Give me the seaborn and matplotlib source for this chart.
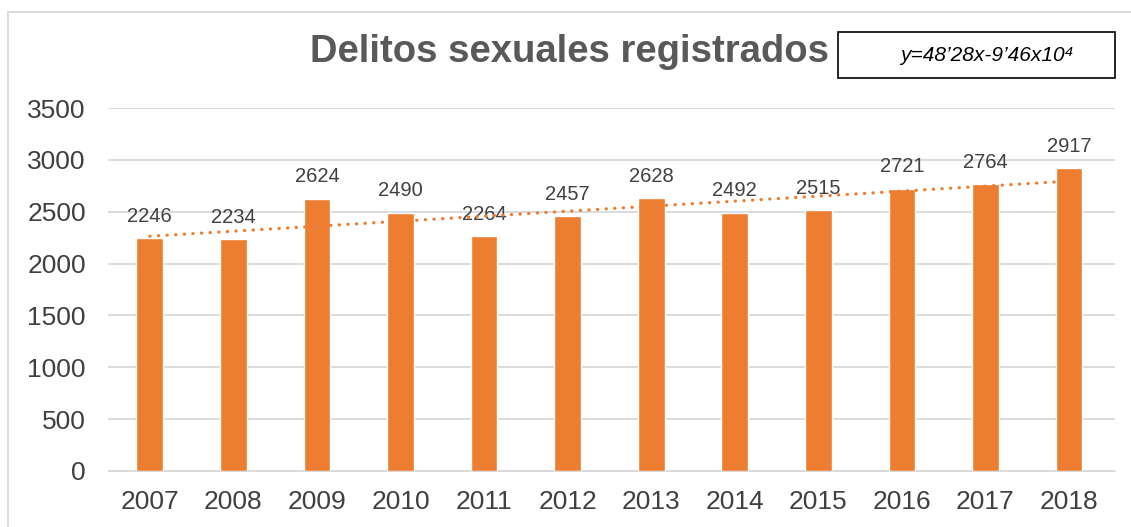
import numpy as np
import pandas as pd
import matplotlib as mpl
mpl.use('Agg')
import matplotlib.pyplot as plt
import seaborn as sns
from matplotlib.patches import Rectangle

years = ['2007', '2008', '2009', '2010', '2011', '2012',
         '2013', '2014', '2015', '2016', '2017', '2018']
delitos = [2246, 2234, 2624, 2490, 2264, 2457, 2628, 2492, 2515, 2721, 2764, 2917]
equation = "y=48’28x-9’46x10⁴"

sns.set_style('white')
plt.rcParams['font.family'] = ['Liberation Sans', 'DejaVu Sans']

df = pd.DataFrame({'year': years, 'n': delitos})

fig = plt.figure(figsize=(11.31, 5.27), dpi=100)
ax = fig.add_axes([108 / 1131, 1 - 471 / 527, (1115 - 108) / 1131, (471 - 108) / 527])

sns.barplot(data=df, x='year', y='n', color='#ED7D31', saturation=1, width=0.32, ax=ax, zorder=2)

# labels sobre las barras
ax.bar_label(ax.containers[0], fontsize=14.5, color='#404040', padding=9)

# linea de tendencia lineal
xs = np.arange(len(delitos))
m, b = np.polyfit(xs, delitos, 1)
ax.plot(xs, m * xs + b, linestyle=(0, (0.1, 2.6)), color='#ED7D31', linewidth=2.3,
        dash_capstyle='round', zorder=3)

ax.set_ylim(0, 3500)
ax.set_xlim(-0.5, 11.55)
ax.set_yticks(range(0, 3501, 500))
ax.yaxis.grid(True, color='#D9D9D9', linewidth=1.3, zorder=0)
ax.set_axisbelow(True)
for s in ax.spines.values():
    s.set_visible(False)
ax.spines['bottom'].set_visible(True)
ax.spines['bottom'].set_color('#D9D9D9')
ax.tick_params(axis='both', labelsize=19, labelcolor='#404040', length=0)
ax.tick_params(axis='x', pad=14)
ax.tick_params(axis='y', pad=16)
ax.set_xlabel('')
ax.set_ylabel('')

fig.text(570 / 1131, 1 - 52 / 527, 'Delitos sexuales registrados', fontsize=27.5, fontweight='bold',
         color='#595959', ha='center', va='center')

fig.patches.append(Rectangle((838 / 1131, 1 - 78 / 527), (1115 - 838) / 1131, 46 / 527,
                             transform=fig.transFigure, fill=False, edgecolor='black',
                             linewidth=1.2))
fig.text(987 / 1131, 1 - 56 / 527, equation, fontsize=15, style='italic',
         ha='center', va='center', color='black')

# borde exterior del grafico
fig.patches.append(Rectangle((8 / 1131, -0.05), 1.1, 1 - 12 / 527 + 0.05,
                             transform=fig.transFigure, fill=False, edgecolor='#D9D9D9',
                             linewidth=1.3))

fig.savefig('out.png', dpi=100)
